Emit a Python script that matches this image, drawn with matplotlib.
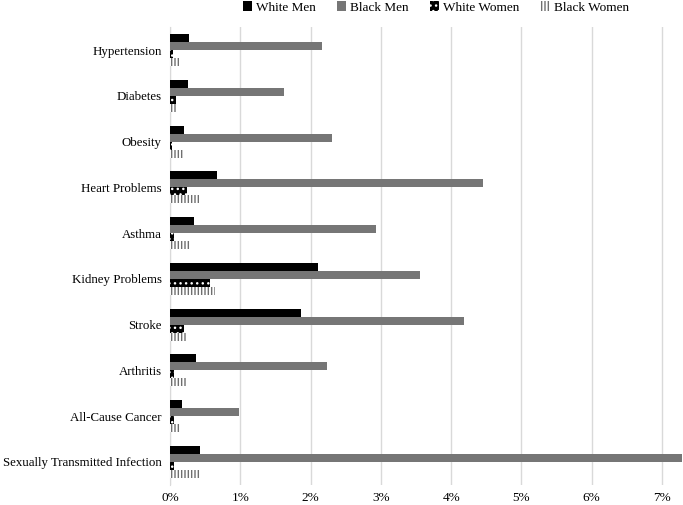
import matplotlib
matplotlib.use("Agg")
import matplotlib.pyplot as plt
import numpy as np
from matplotlib.ticker import FuncFormatter

categories = ["Hypertension", "Diabetes", "Obesity", "Heart Problems", "Asthma",
              "Kidney Problems", "Stroke", "Arthritis", "All-Cause Cancer",
              "Sexually Transmitted Infection"]
white_men = [0.27, 0.26, 0.20, 0.67, 0.34, 2.10, 1.87, 0.37, 0.17, 0.43]
black_men = [2.16, 1.62, 2.30, 4.45, 2.93, 3.55, 4.19, 2.24, 0.98, 7.29]
white_women = [0.04, 0.085, 0.03, 0.24, 0.06, 0.57, 0.20, 0.06, 0.06, 0.06]
black_women = [0.13, 0.085, 0.18, 0.41, 0.28, 0.64, 0.23, 0.23, 0.14, 0.42]
series_names = ["White Men", "Black Men", "White Women", "Black Women"]

plt.rcParams['font.family'] = ['Liberation Serif', 'DejaVu Serif']
plt.rcParams['hatch.linewidth'] = 1.0

fig = plt.figure(figsize=(6.83, 5.05), dpi=100)
ax = fig.add_axes([0.249, 0.040, 0.751, 0.906])

y = np.arange(len(categories))
h = 0.175
offsets = [-1.5 * h, -0.5 * h, 0.5 * h, 1.5 * h]

ax.barh(y + offsets[0], white_men, height=h, color="black", label=series_names[0], zorder=3)
ax.barh(y + offsets[1], black_men, height=h, color="#767676", label=series_names[1], zorder=3)
ax.barh(y + offsets[2], white_women, height=h, facecolor="black", edgecolor="white",
        hatch="...", linewidth=0, label=series_names[2], zorder=3)
ax.barh(y + offsets[3], black_women, height=h, facecolor="white", edgecolor="#6f6f6f",
        hatch="|||||", linewidth=0, label=series_names[3], zorder=3)

ax.set_yticks(y)
ax.set_yticklabels(categories, fontsize=9.3)
ax.set_ylim(len(categories) - 0.5, -0.5)
ax.set_xlim(0, 7.3)
ax.set_xticks(np.arange(0, 8, 1))
ax.xaxis.set_major_formatter(FuncFormatter(lambda v, p: f"{int(round(v))}%"))
ax.tick_params(axis='x', labelsize=9.5, length=0, pad=5)
ax.tick_params(axis='y', length=0, pad=6)
ax.grid(axis='x', color="#d9d9d9", linewidth=1, zorder=0)
for s in ["top", "right", "bottom"]:
    ax.spines[s].set_visible(False)
ax.spines["left"].set_color("#d9d9d9")

fig.legend(loc="center", bbox_to_anchor=(0.638, 0.985), ncol=4, frameon=False,
           fontsize=9.5, handlelength=0.7, handleheight=0.7, handletextpad=0.3,
           columnspacing=1.6)

fig.savefig("out.png", dpi=100)
